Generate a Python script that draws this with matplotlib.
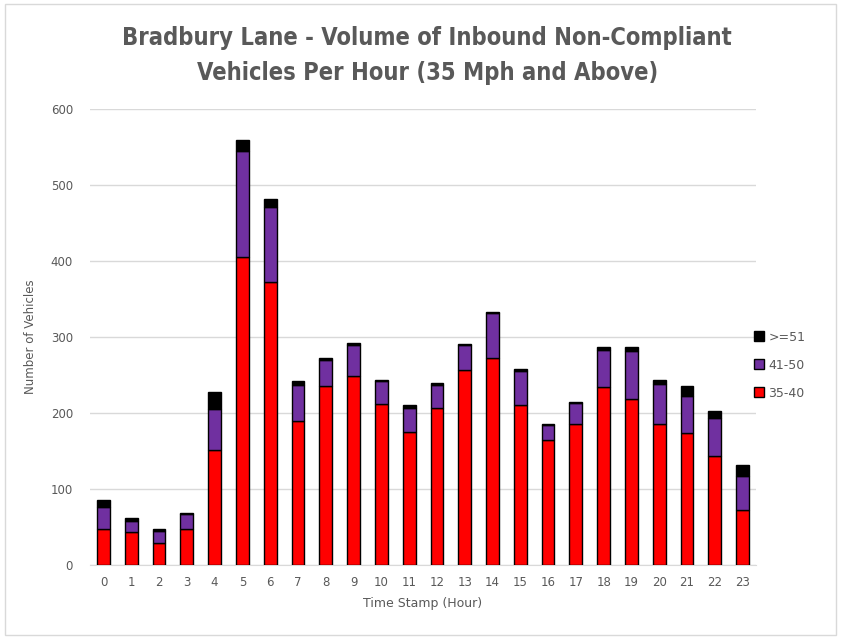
import matplotlib.pyplot as plt
from matplotlib.patches import Rectangle

hours = list(range(24))
# vehicle counts per speed band
speed_35_40 = [48, 43, 29, 48, 151, 405, 372, 189, 235, 249, 212, 175,
               207, 257, 273, 211, 164, 186, 234, 218, 185, 174, 143, 72]
speed_41_50 = [28, 15, 16, 19, 54, 140, 99, 48, 35, 41, 30, 32,
               30, 32, 58, 44, 20, 27, 49, 63, 53, 49, 50, 45]
speed_51_up = [10, 4, 3, 2, 23, 14, 10, 5, 3, 2, 2, 3,
               3, 2, 2, 3, 1, 2, 4, 6, 5, 12, 10, 15]

text_col = '#595959'
grid_col = '#D9D9D9'

fig = plt.figure(figsize=(8.41, 6.38), dpi=100)
fig.patches.append(Rectangle((0.006, 0.004), 0.988, 0.99, transform=fig.transFigure,
                             fill=False, edgecolor=grid_col, linewidth=1))
ax = fig.add_axes([0.1065, 0.1144, 0.793, 0.7147])

bottom2 = [a + b for a, b in zip(speed_35_40, speed_41_50)]
w = 0.46
ax.bar(hours, speed_35_40, width=w, color='#FF0000', edgecolor='black', linewidth=1, label='35-40', zorder=3)
ax.bar(hours, speed_41_50, width=w, bottom=speed_35_40, color='#7030A0', edgecolor='black', linewidth=1,
       label='41-50', zorder=3)
ax.bar(hours, speed_51_up, width=w, bottom=bottom2, color='#000000', edgecolor='black', linewidth=1,
       label='>=51', zorder=3)

ax.set_xlim(-0.5, 23.5)
ax.set_ylim(0, 600)
ax.set_yticks(range(0, 601, 100))
ax.set_xticks(hours)
ax.yaxis.grid(True, color=grid_col, linewidth=1)
ax.set_axisbelow(True)
for s in ['top', 'right', 'left']:
    ax.spines[s].set_visible(False)
ax.spines['bottom'].set_color(grid_col)
ax.tick_params(axis='both', length=0, colors=text_col, labelsize=8.5)
ax.tick_params(axis='x', pad=8)
ax.tick_params(axis='y', pad=12)

ax.set_xlabel('Time Stamp (Hour)', color=text_col, fontsize=9, labelpad=6)
ax.set_ylabel('Number of Vehicles', color=text_col, fontsize=8.5, labelpad=10)

fig.text(0.508, 0.913, 'Bradbury Lane - Volume of Inbound Non-Compliant\nVehicles Per Hour (35 Mph and Above)',
         ha='center', va='center', fontsize=17, fontweight='bold', color=text_col,
         family=['Liberation Sans Narrow', 'DejaVu Sans'], linespacing=1.6, fontstretch='condensed')

handles, labels = ax.get_legend_handles_labels()
ax.legend(handles[::-1], labels[::-1], loc='center left', bbox_to_anchor=(0.98, 0.4386), frameon=False,
          fontsize=9, labelcolor=text_col, handlelength=0.8, handleheight=0.8, handletextpad=0.3,
          labelspacing=1.2)

fig.savefig('out.png', dpi=100)
